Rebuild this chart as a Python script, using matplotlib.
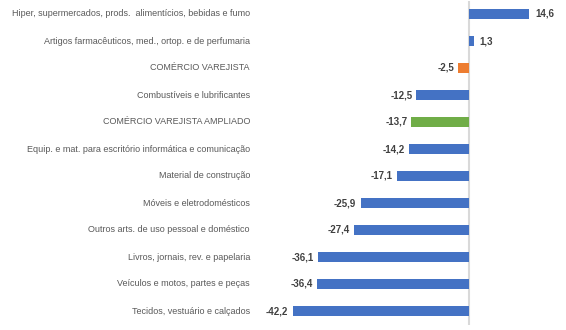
import matplotlib
matplotlib.use("Agg")
import matplotlib.pyplot as plt

# categories from top to bottom, with their values (% change)
categories = [
    "Hiper, supermercados, prods.  alimentícios, bebidas e fumo",
    "Artigos farmacêuticos, med., ortop. e de perfumaria",
    "COMÉRCIO VAREJISTA",
    "Combustíveis e lubrificantes",
    "COMÉRCIO VAREJISTA AMPLIADO",
    "Equip. e mat. para escritório informática e comunicação",
    "Material de construção",
    "Móveis e eletrodomésticos",
    "Outros arts. de uso pessoal e doméstico",
    "Livros, jornais, rev. e papelaria",
    "Veículos e motos, partes e peças",
    "Tecidos, vestuário e calçados",
]
values = [14.6, 1.3, -2.5, -12.5, -13.7, -14.2, -17.1, -25.9, -27.4, -36.1, -36.4, -42.2]

blue, orange, green = "#4472C4", "#ED7D31", "#70AD47"
colors = [blue] * len(values)
colors[categories.index("COMÉRCIO VAREJISTA")] = orange
colors[categories.index("COMÉRCIO VAREJISTA AMPLIADO")] = green

plt.rcParams["font.family"] = ["Liberation Sans", "DejaVu Sans"]

fig = plt.figure(figsize=(5.66, 3.30), dpi=100)
ax = fig.add_axes([260 / 566, 5.5 / 330, 292 / 566, 324 / 330])

y = list(range(len(values)))
ax.barh(y, values, height=0.36, color=colors, zorder=2)
ax.axvline(0, color="#d9d9d9", lw=1.5, zorder=1)

ax.set_xlim(-50, 20)
ax.set_ylim(len(values) - 0.5, -0.5)
ax.axis("off")

for yi, v, cat in zip(y, values, categories):
    txt = f"{v:.1f}".replace(".", ",")
    if v < 0:
        ax.annotate(txt, (v, yi), xytext=(-3, 0), textcoords="offset points",
                    ha="right", va="center", fontsize=7, fontweight="bold",
                    color="#404040")
    else:
        ax.annotate(txt, (v, yi), xytext=(4, 0), textcoords="offset points",
                    ha="left", va="center", fontsize=7, fontweight="bold",
                    color="#404040")
    ax.annotate(cat, (0, yi), xycoords=("figure fraction", "data"),
                xytext=(250, 0), textcoords=("figure pixels", "offset points"),
                ha="right", va="center", fontsize=6.5, color="#595959")

fig.savefig("out.png", dpi=100)
